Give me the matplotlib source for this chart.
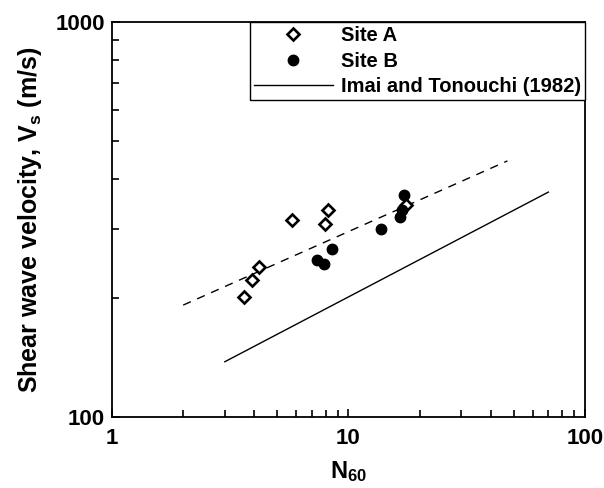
import numpy as np
import matplotlib
matplotlib.use("Agg")
import matplotlib.pyplot as plt
from matplotlib.ticker import LogLocator, NullFormatter, FixedLocator, FixedFormatter

plt.rcParams['font.family'] = ['Liberation Sans', 'DejaVu Sans']
plt.rcParams['font.weight'] = 'bold'
plt.rcParams['mathtext.fontset'] = 'custom'
plt.rcParams['mathtext.rm'] = 'Liberation Sans:bold'
plt.rcParams['mathtext.bf'] = 'Liberation Sans:bold'
plt.rcParams['mathtext.it'] = 'Liberation Sans:bold'

# Site A (open diamonds)
siteA_n = [3.62, 3.92, 4.20, 5.75, 7.96, 8.17, 17.5]
siteA_vs = [201, 222, 240, 315, 308, 334, 344]

# Site B (filled circles)
siteB_n = [7.34, 7.88, 8.49, 13.7, 16.5, 16.8, 17.1]
siteB_vs = [250, 244, 266, 300, 321, 334, 365]

# dashed fit line (end points)
fit_n = [2.0, 47.0]
fit_vs = [192, 445]

# Imai and Tonouchi (1982) line (end points)
imai_n = [3.0, 70.0]
imai_vs = [138, 371]

fig = plt.figure(figsize=(6.04, 4.88), dpi=100)
ax = fig.add_axes([0.1854, 0.1455, 0.7831, 0.8094])

ax.plot(siteA_n, siteA_vs, linestyle='none', marker='D', markersize=6,
        markerfacecolor='white', markeredgecolor='black', markeredgewidth=1.9,
        label='Site A', zorder=3)
ax.plot(siteB_n, siteB_vs, linestyle='none', marker='o', markersize=7.5,
        markerfacecolor='black', markeredgecolor='black', label='Site B', zorder=3)
ax.plot(imai_n, imai_vs, color='black', lw=1.0, label='Imai and Tonouchi (1982)')
ax.plot(fit_n, fit_vs, color='black', lw=1.0, dashes=(6, 5))

ax.set_xscale('log')
ax.set_yscale('log')
ax.set_xlim(1, 100)
ax.set_ylim(100, 1000)

ax.xaxis.set_major_locator(FixedLocator([1, 10, 100]))
ax.xaxis.set_major_formatter(FixedFormatter(['1', '10', '100']))
ax.yaxis.set_major_locator(FixedLocator([100, 1000]))
ax.yaxis.set_major_formatter(FixedFormatter(['100', '1000']))
ax.xaxis.set_minor_locator(LogLocator(base=10, subs=np.arange(2, 10)))
ax.yaxis.set_minor_locator(LogLocator(base=10, subs=np.arange(2, 10)))
ax.xaxis.set_minor_formatter(NullFormatter())
ax.yaxis.set_minor_formatter(NullFormatter())

ax.tick_params(which='both', direction='in', top=False, right=False,
               width=1.2, labelsize=16)
ax.tick_params(axis='x', pad=8)
ax.tick_params(axis='y', pad=5)
ax.tick_params(which='major', length=6)
ax.tick_params(which='minor', length=5)
for s in ax.spines.values():
    s.set_linewidth(1.3)

ax.set_xlabel(r'N$_{60}$', fontsize=17, fontweight='bold', labelpad=7)
ax.set_ylabel(r'Shear wave velocity, V$_{s}$ (m/s)', fontsize=18,
              fontweight='bold', labelpad=8)

leg = ax.legend(loc='upper right', borderaxespad=0, fancybox=False,
                edgecolor='black', framealpha=1, numpoints=1,
                handlelength=3.9, handletextpad=0.4, fontsize=14.5,
                borderpad=0.2, labelspacing=0.33)
leg.get_frame().set_linewidth(1.0)

fig.savefig('out.png', dpi=100)
